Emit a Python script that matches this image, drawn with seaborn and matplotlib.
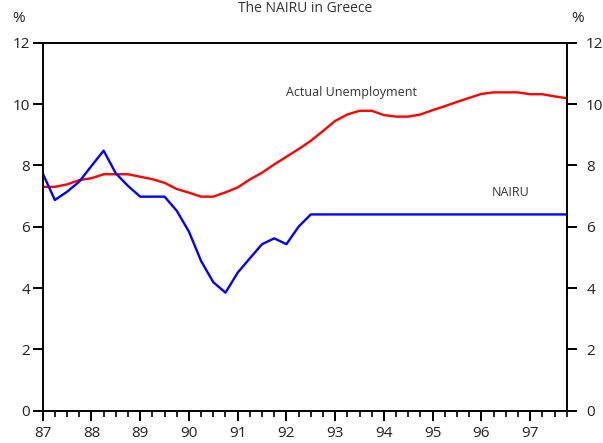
import numpy as np
import pandas as pd
import matplotlib
matplotlib.use('Agg')
import matplotlib.pyplot as plt
import seaborn as sns

# quarterly data, 1987Q1 .. 1997Q4
start_year = 87
actual = [7.30, 7.30, 7.38, 7.52, 7.58, 7.71, 7.71, 7.71, 7.63, 7.55, 7.43, 7.23,
          7.11, 6.98, 6.98, 7.12, 7.28, 7.54, 7.76, 8.03, 8.28, 8.53, 8.80, 9.12,
          9.45, 9.66, 9.78, 9.78, 9.64, 9.59, 9.59, 9.66, 9.80, 9.93, 10.07, 10.20,
          10.33, 10.38, 10.38, 10.38, 10.32, 10.32, 10.25, 10.19]
nairu = [7.74, 6.87, 7.14, 7.47, 7.98, 8.48, 7.74, 7.33, 6.98, 6.98, 6.98, 6.52,
         5.84, 4.88, 4.19, 3.85, 4.50, 4.97, 5.43, 5.62, 5.43, 6.00, 6.40, 6.40,
         6.40, 6.40, 6.40, 6.40, 6.40, 6.40, 6.40, 6.40, 6.40, 6.40, 6.40, 6.40,
         6.40, 6.40, 6.40, 6.40, 6.40, 6.40, 6.40, 6.40]
year_labels = ['87', '88', '89', '90', '91', '92', '93', '94', '95', '96', '97']
y_ticks = [0, 2, 4, 6, 8, 10, 12]

years = start_year + np.arange(len(actual)) / 4
df = pd.DataFrame({
    'year': np.concatenate([years, years]),
    'rate': actual + nairu,
    'series': ['Actual Unemployment'] * len(actual) + ['NAIRU'] * len(nairu),
})

sns.set_style('white')
plt.rcParams['font.family'] = ['Open Sans', 'DejaVu Sans']

W, H = 603, 443
fig = plt.figure(figsize=(W / 100, H / 100), dpi=100)
x0, x1, y0, y1 = 42.7, 566.7, 410.7, 42.7
ax = fig.add_axes([x0 / W, 1 - y0 / H, (x1 - x0) / W, (y0 - y1) / H])

sns.lineplot(data=df, x='year', y='rate', hue='series',
             palette={'Actual Unemployment': '#ff0000', 'NAIRU': '#0000ff'},
             linewidth=1.7, legend=False, ax=ax)

ax.set_xlim(87, 97.75)
ax.set_ylim(0, 12)
ax.set_xlabel('')
ax.set_ylabel('')
ax.set_xticks(range(87, 98))
ax.set_xticklabels(year_labels)
ax.set_xticks(np.arange(87, 97.76, 0.25), minor=True)
ax.set_yticks(y_ticks)
ax.set_yticklabels([str(v) for v in y_ticks])

for s in ax.spines.values():
    s.set_visible(True)
    s.set_color('black')
    s.set_linewidth(1.4)

ax.tick_params(axis='x', which='major', bottom=True, direction='out', length=7,
               width=1.4, labelsize=11, pad=4, colors='black', labelcolor='#222222')
ax.tick_params(axis='x', which='minor', bottom=True, direction='out', length=4.5,
               width=1.2, colors='black')
ax.tick_params(axis='y', which='major', left=True, direction='out', length=7,
               width=1.4, labelsize=11, pad=2, colors='black', labelcolor='#222222')

ax2 = ax.twinx()
ax2.set_ylim(0, 12)
ax2.set_yticks(y_ticks)
ax2.set_yticklabels([str(v) for v in y_ticks])
ax2.tick_params(axis='y', which='major', right=True, direction='out', length=7,
                width=1.4, labelsize=11, pad=7, colors='black', labelcolor='#222222')
for s in ax2.spines.values():
    s.set_visible(False)

# series labels
ax.text(93.33, 10.39, 'Actual Unemployment', ha='center', va='center',
        fontsize=9, color='#333333')
ax.text(96.59, 7.1, 'NAIRU', ha='center', va='center', fontsize=9, color='#333333')

# % markers and title
fig.text(19 / W, 1 - 18 / H, '%', ha='center', va='center', fontsize=11, color='#222222')
fig.text(578 / W, 1 - 18 / H, '%', ha='center', va='center', fontsize=11, color='#222222')
fig.text(305 / W, 1 - 1 / H, 'The NAIRU in Greece', ha='center', va='top',
         fontsize=10, color='#333333')

fig.savefig('out.png', dpi=100)
